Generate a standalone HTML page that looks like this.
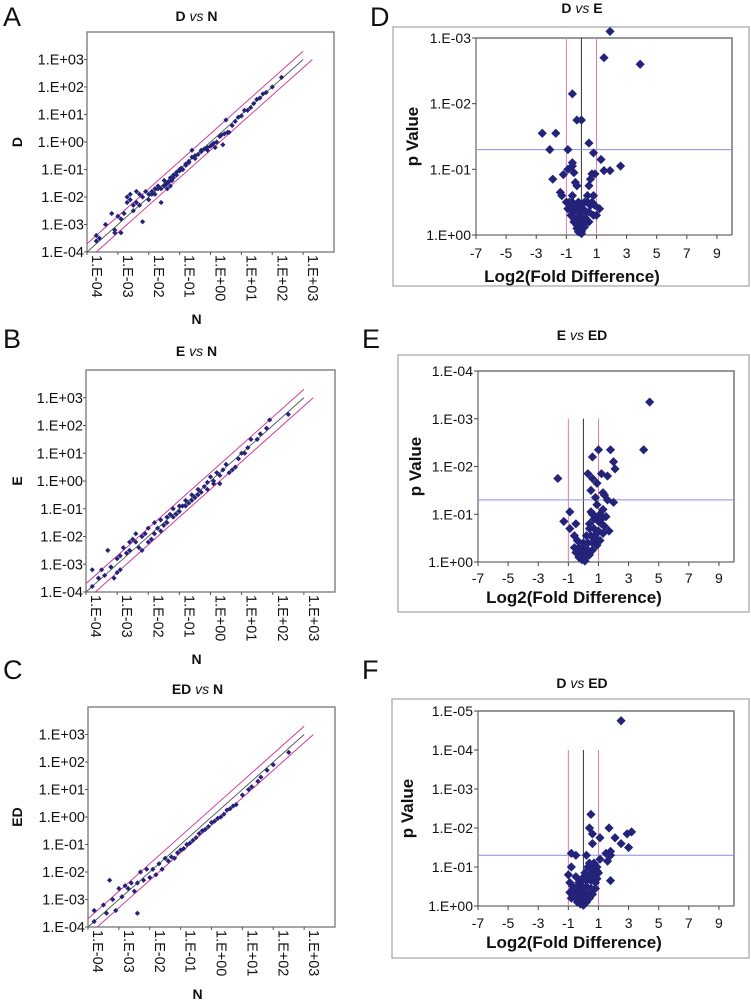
<!DOCTYPE html>
<html><head><meta charset="utf-8"><style>
html,body{margin:0;padding:0;background:#fff;}
svg{display:block;font-family:"Liberation Sans",Arial,sans-serif;}
</style></head><body>
<svg id="fig" width="751" height="1000" viewBox="0 0 751 1000" xmlns="http://www.w3.org/2000/svg">
<rect width="751" height="1000" fill="#fff"/>
<g id="root"></g>
</svg>
<script>
// ---- Scatter data (log10 values) ----
const aX = [-3.7,-3.7,-3.6,-3.4,-3.2,-3.1,-3.1,-3.0,-2.9,-2.9,-2.8,-2.7,-2.7,-2.6,-2.6,-2.5,-2.5,-2.4,-2.4,-2.3,-2.3,-2.2,-2.2,-2.1,-2.0,-2.0,-1.9,-1.9,-1.8,-1.8,-1.7,-1.7,-1.6,-1.6,-1.5,-1.5,-1.45,-1.4,-1.4,-1.35,-1.3,-1.3,-1.25,-1.2,-1.2,-1.1,-1.1,-1.0,-1.0,-0.95,-0.9,-0.9,-0.8,-0.8,-0.7,-0.7,-0.6,-0.6,-0.5,-0.5,-0.4,-0.3,-0.3,-0.2,-0.1,-0.1,0.0,0.05,0.1,0.15,0.2,0.3,0.35,0.4,0.45,0.5,0.55,0.6,0.7,0.8,0.9,1.0,1.1,1.2,1.3,1.4,1.5,1.6,1.7,1.8,2.0,2.3];
const aY = [-3.4,-3.6,-3.5,-3.0,-2.6,-3.2,-3.3,-2.7,-2.8,-3.3,-2.6,-2.2,-2.0,-1.9,-2.1,-2.5,-2.3,-2.2,-1.8,-1.9,-2.3,-2.9,-2.0,-1.8,-1.9,-2.1,-1.8,-1.9,-1.7,-1.9,-1.6,-1.7,-1.7,-2.2,-1.4,-1.6,-1.55,-1.5,-1.7,-1.45,-1.3,-1.6,-1.4,-1.2,-1.3,-1.1,-1.2,-1.05,-1.0,-0.95,-1.0,-1.0,-0.85,-0.8,-0.7,-0.75,-0.55,-0.3,-0.5,-0.6,-0.45,-0.3,-0.35,-0.25,-0.2,-0.3,-0.15,-0.1,-0.05,-0.2,0.0,0.2,0.25,-0.1,0.3,0.8,0.35,0.35,0.6,0.75,0.9,0.95,1.15,1.15,1.25,1.4,1.55,1.6,1.75,1.8,2.0,2.35];
const bX = [-3.8,-3.8,-3.6,-3.5,-3.4,-3.3,-3.2,-3.1,-3.0,-3.0,-2.9,-2.9,-2.8,-2.7,-2.6,-2.6,-2.5,-2.4,-2.4,-2.3,-2.2,-2.2,-2.1,-2.0,-2.0,-1.9,-1.8,-1.8,-1.7,-1.6,-1.6,-1.5,-1.4,-1.4,-1.3,-1.2,-1.2,-1.1,-1.0,-1.0,-0.9,-0.8,-0.8,-0.7,-0.6,-0.6,-0.5,-0.4,-0.4,-0.3,-0.2,-0.1,-0.1,0.0,0.1,0.1,0.2,0.3,0.3,0.4,0.5,0.6,0.7,0.8,0.9,1.0,1.1,1.2,1.3,1.5,1.6,1.8,1.9,2.5];
const bY = [-3.2,-3.8,-3.5,-3.2,-3.4,-2.5,-3.1,-3.5,-2.8,-3.3,-2.7,-3.2,-2.4,-2.6,-2.5,-2.2,-2.1,-2.2,-1.9,-2.4,-2.0,-2.5,-1.9,-1.7,-2.2,-2.1,-1.5,-1.9,-1.7,-1.4,-1.8,-1.6,-1.3,-1.5,-1.2,-1.3,-1.0,-1.2,-0.9,-1.1,-0.9,-0.7,-0.9,-0.8,-0.5,-0.7,-0.6,-0.3,-0.5,-0.4,-0.2,-0.05,-0.3,0.15,0.0,-0.1,0.3,0.2,-0.1,0.4,0.6,0.3,0.4,0.5,0.8,1.0,1.0,1.2,1.5,1.5,1.7,1.9,2.2,2.4];
const cX = [-3.8,-3.8,-3.5,-3.4,-3.3,-3.2,-3.1,-3.0,-2.9,-2.8,-2.7,-2.6,-2.5,-2.4,-2.4,-2.3,-2.2,-2.1,-2.0,-1.9,-1.8,-1.7,-1.6,-1.5,-1.4,-1.3,-1.2,-1.1,-1.0,-0.9,-0.8,-0.7,-0.6,-0.5,-0.4,-0.3,-0.2,-0.1,0.0,0.1,0.2,0.3,0.4,0.5,0.6,0.7,0.8,1.0,1.2,1.3,1.5,1.6,1.8,2.0,2.5];
const cY = [-3.4,-3.8,-3.2,-3.5,-2.3,-3.0,-3.4,-2.6,-2.9,-2.5,-2.6,-2.4,-2.7,-3.5,-2.4,-2.0,-2.3,-1.9,-2.2,-1.9,-2.1,-1.7,-1.9,-1.5,-1.6,-1.45,-1.5,-1.3,-1.2,-1.15,-1.0,-0.95,-0.85,-0.75,-0.6,-0.5,-0.45,-0.35,-0.2,-0.15,-0.05,0.0,0.1,0.25,0.3,0.4,0.45,0.8,1.0,1.1,1.3,1.45,1.7,1.9,2.35];
// ---- Volcano data (log2 fold, -log10 p) ----
const dX = [1.9,3.9,1.5,-0.6,-0.3,0.0,-2.6,-1.7,-2.1,-0.9,0.5,0.8,1.3,2.6,1.5,1.9,-0.6,-0.6,-0.9,-1.2,-0.5,-1.9,0.7,0.9,0.6,-0.4,-0.3,0.5,-1.4,-1.3,-0.6,0.4,0.8,0.7,-1.0,-0.8,-0.6,-0.4,-0.2,0.0,0.2,0.4,0.6,0.9,1.2,-0.9,-0.7,-0.5,-0.3,-0.1,0.1,0.3,0.5,0.8,1.0,-0.7,-0.5,-0.3,-0.1,0.1,0.3,0.5,-0.5,-0.3,-0.1,0.1,0.3,-0.3,-0.1,0.1,0.2,-0.2,0.0,0.0];
const dY = [3.1,2.6,2.7,2.15,1.75,1.75,1.55,1.55,1.3,1.3,1.4,1.25,1.15,1.05,0.98,0.98,1.1,1.05,1.0,0.92,0.95,0.85,0.93,0.93,0.85,0.8,0.75,0.75,0.65,0.6,0.6,0.6,0.6,0.5,0.5,0.5,0.5,0.45,0.5,0.45,0.5,0.5,0.45,0.45,0.4,0.4,0.4,0.35,0.4,0.35,0.4,0.35,0.35,0.3,0.3,0.3,0.25,0.25,0.3,0.25,0.25,0.2,0.2,0.15,0.2,0.15,0.2,0.1,0.1,0.1,0.12,0.05,0.05,0.02];
const eX = [4.4,4.0,1.0,1.8,0.6,2.0,2.1,-1.7,0.3,1.2,1.6,0.6,0.9,0.5,1.3,0.8,1.6,2.0,1.4,0.9,0.5,-0.9,-1.3,1.5,0.7,1.2,0.4,-0.5,-0.9,1.7,-0.6,0.9,1.1,1.3,0.6,0.8,1.0,1.2,1.4,0.4,0.7,1.0,1.3,0.2,0.5,0.8,1.1,-0.4,0.0,0.3,0.6,0.9,-0.6,-0.3,0.0,0.3,0.6,-0.5,-0.2,0.1,0.4,-0.3,0.0,0.2,-0.1,0.1];
const eY = [3.35,2.35,2.35,2.35,2.2,2.1,1.95,1.75,1.85,1.85,1.8,1.75,1.65,1.5,1.45,1.35,1.3,1.25,1.4,1.2,1.05,1.05,0.85,0.95,0.9,0.9,0.8,0.8,0.7,0.65,0.55,0.6,1.0,1.1,1.0,0.95,0.85,0.8,0.75,0.7,0.7,0.65,0.6,0.55,0.55,0.5,0.45,0.45,0.4,0.4,0.4,0.35,0.3,0.3,0.3,0.25,0.25,0.2,0.2,0.2,0.15,0.1,0.1,0.1,0.05,0.02];
const fX = [2.5,0.5,0.4,1.7,0.6,3.2,2.9,2.1,1.1,2.5,0.6,3.0,1.8,1.5,1.8,0.2,-0.8,-0.5,1.6,1.1,-0.8,0.9,-1.0,0.5,-0.5,1.8,-0.9,-0.3,0.4,0.7,0.9,0.3,0.6,0.8,1.0,0.1,0.4,0.7,0.9,-0.1,0.2,0.5,0.8,-0.7,-0.4,-0.1,0.2,0.5,0.8,-0.9,-0.6,-0.3,0.0,0.3,0.6,-0.8,-0.5,-0.2,0.1,0.4,-0.4,-0.1,0.2,-0.2,0.0];
const fY = [4.75,2.35,2.0,2.0,1.85,1.9,1.85,1.75,1.75,1.6,1.6,1.5,1.4,1.35,1.3,1.3,1.35,1.3,1.15,1.2,1.0,0.9,0.8,0.8,0.75,0.65,0.6,0.6,1.1,1.1,1.0,1.0,0.95,0.9,0.85,0.85,0.8,0.75,0.7,0.7,0.65,0.65,0.6,0.5,0.5,0.5,0.5,0.45,0.45,0.35,0.35,0.35,0.35,0.3,0.3,0.2,0.2,0.2,0.2,0.2,0.1,0.1,0.1,0.05,0.02];
// tick labels
const logTicks = ["1.E-04","1.E-03","1.E-02","1.E-01","1.E+00","1.E+01","1.E+02","1.E+03"];
const foldTicks = [-7,-5,-3,-1,1,3,5,7,9];
const pTicksD = ["1.E+00","1.E-01","1.E-02","1.E-03"];
const pTicksE = ["1.E+00","1.E-01","1.E-02","1.E-03","1.E-04"];
const pTicksF = ["1.E+00","1.E-01","1.E-02","1.E-03","1.E-04","1.E-05"];

const NS = "http://www.w3.org/2000/svg";
const root = document.getElementById('root');
const NAVY = "#23237a";
function mk(tag, attrs, parent, txt){
  const e = document.createElementNS(NS, tag);
  for (const k in attrs) e.setAttribute(k, attrs[k]);
  if (txt !== undefined) e.textContent = txt;
  (parent||root).appendChild(e);
  return e;
}
function title(parent, x, y, a, b, size){
  const t = mk('text', {x:x, y:y, 'text-anchor':'middle', 'font-size':size, 'font-weight':'bold', fill:'#111'}, parent);
  
  
  mk('tspan', {}, t, a + ' ');
  mk('tspan', {'font-style':'italic','font-weight':'normal'}, t, 'vs');
  mk('tspan', {}, t, ' ' + b);
}
function letter(x, y, s){
  const t = mk('text', {x:x, y:y, 'font-size':27, fill:'#111'}, root, s);
  
  
}

function scatterPanel(name, L, T, R, B, xs, ys, ttl, ylab, titleY, nY){
  const g = mk('g', {}, root);
  
  
  const sx = v => L + (v + 4) / 8 * (R - L);
  const sy = v => B - (v + 4) / 8 * (B - T);
  const box = mk('rect', {x:L, y:T, width:R-L, height:B-T, fill:'none', stroke:'#777', 'stroke-width':1.3}, g);
  
  
  logTicks.forEach((t, i) => {
    const y = sy(i - 4);
    mk('line', {x1:L-3, x2:L, y1:y, y2:y, stroke:'#555'}, g);
    const tx = mk('text', {x:L-3, y:y+5, 'text-anchor':'end', 'font-size':14.5, fill:'#111'}, g, t);
    
    
    const x = sx(i - 4);
    mk('line', {x1:x, x2:x, y1:B, y2:B+3, stroke:'#555'}, g);
    const lx = mk('text', {x:0, y:0, 'font-size':14.5, fill:'#111', transform:`translate(${x+5},${B+3}) rotate(90)`}, g, t);
    
    
  });
  const l1 = mk('line', {x1:sx(-4), y1:sy(-4), x2:sx(3), y2:sy(3), stroke:'#555', 'stroke-width':0.9}, g);
  
  
  const l2 = mk('line', {x1:sx(-4), y1:sy(-3.7), x2:sx(3), y2:sy(3.3), stroke:'#d23a9a', 'stroke-width':1}, g);
  
  
  const l3 = mk('line', {x1:sx(-3.7), y1:sy(-4), x2:sx(3.3), y2:sy(3), stroke:'#d23a9a', 'stroke-width':1}, g);
  
  
  const n = Math.min(xs.length, ys.length);
  for (let i = 0; i < n; i++){
    const x = sx(xs[i]), y = sy(ys[i]), r = 2.6;
    const p = mk('polygon', {points:`${x},${y-r} ${x+r},${y} ${x},${y+r} ${x-r},${y}`, fill:NAVY}, g);
    
    
  }
  title(g, (L+R)/2 - 14, titleY, ttl[0], ttl[1], 14);
  const yl = mk('text', {x:0, y:0, 'font-size':14, 'font-weight':'bold', 'text-anchor':'middle', fill:'#111', transform:`translate(${22},${(T+B)/2}) rotate(-90)`}, g, ylab);
  
  
  const xl = mk('text', {x:(L+R)/2 - 14, y:nY, 'font-size':14, 'font-weight':'bold', 'text-anchor':'middle', fill:'#111'}, g, 'N');
  
  
}

function volcanoPanel(name, frame, L, T, R, B, maxDec, xs, ys, pTicks, vTop, ttl, titleY, ylX, tickY, axY){
  const g = mk('g', {}, root);
  
  
  const sx = v => L + (v + 7) / 17 * (R - L);
  const sy = v => B - v / maxDec * (B - T);
  const fr = mk('rect', {x:frame[0], y:frame[1], width:frame[2], height:frame[3], fill:'none', stroke:'#aaa', 'stroke-width':1.3}, g);
  
  
  mk('polyline', {points:`${L},${T} ${R},${T} ${R},${B}`, fill:'none', stroke:'#777', 'stroke-width':1.5}, g);
  mk('polyline', {points:`${L},${T} ${L},${B} ${R},${B}`, fill:'none', stroke:'#444', 'stroke-width':1}, g);
  pTicks.forEach((t, i) => {
    const y = sy(i);
    mk('line', {x1:L-4, x2:L, y1:y, y2:y, stroke:'#444'}, g);
    const tx = mk('text', {x:L-5, y:y+5, 'text-anchor':'end', 'font-size':14, fill:'#111'}, g, t);
    
    
  });
  for (let v = -7; v <= 10; v += 2) { const x = sx(v); mk('line', {x1:x, x2:x, y1:B, y2:B+4, stroke:'#444'}, g); }
  foldTicks.forEach(v => {
    const tx = mk('text', {x:sx(v), y:tickY, 'text-anchor':'middle', 'font-size':14, fill:'#111'}, g, String(v));
    
    
  });
  const vt = sy(vTop);
  [-1, 1].forEach(v => {
    const l = mk('line', {x1:sx(v), x2:sx(v), y1:vt, y2:B, stroke:'#e07ab8', 'stroke-width':1}, g);
    
    
  });
  const l0 = mk('line', {x1:sx(0), x2:sx(0), y1:vt, y2:B, stroke:'#333', 'stroke-width':1}, g);
  
  
  const hy = sy(1.301);
  const h = mk('line', {x1:L, x2:R, y1:hy, y2:hy, stroke:'#8a8ee0', 'stroke-width':1}, g);
  
  
  const n = Math.min(xs.length, ys.length);
  for (let i = 0; i < n; i++){
    const x = sx(xs[i]), y = sy(ys[i]), r = 4.6;
    const p = mk('polygon', {points:`${x},${y-r} ${x+r},${y} ${x},${y+r} ${x-r},${y}`, fill:NAVY}, g);
    
    
  }
  title(g, 582, titleY, ttl[0], ttl[1], 14);
  const yl = mk('text', {x:0, y:0, 'font-size':17, 'font-weight':'bold', 'text-anchor':'middle', fill:'#111', transform:`translate(${ylX},${(T+B)/2}) rotate(-90)`}, g, 'p Value');
  
  
  const xl = mk('text', {x:(L+R)/2 - 32, y:axY, 'font-size':17, 'font-weight':'bold', 'text-anchor':'middle', fill:'#111'}, g, 'Log2(Fold Difference)');
  
  
}

letter(3, 26, 'A'); letter(3, 348, 'B'); letter(3, 679, 'C');
letter(370, 26, 'D'); letter(362, 348, 'E'); letter(362, 679, 'F');

scatterPanel('panel-a-d-vs-n', 87, 32, 334, 252, aX, aY, ['D','N'], 'D', 21, 324);
scatterPanel('panel-b-e-vs-n', 86, 370, 335, 592, bX, bY, ['E','N'], 'E', 356, 664);
scatterPanel('panel-c-ed-vs-n', 88, 707, 335, 927, cX, cY, ['ED','N'], 'ED', 694, 999);

volcanoPanel('panel-d-d-vs-e', [393,27,356,259], 476, 38, 732, 235, 3, dX, dY, pTicksD, 3, ['D','E'], 13, 418, 258, 282);
volcanoPanel('panel-e-e-vs-ed', [398,355,351,257], 478, 371, 734, 562, 4, eX, eY, pTicksE, 3, ['E','ED'], 340, 421, 583, 603);
volcanoPanel('panel-f-d-vs-ed', [392,699,357,259], 478, 711, 734, 906, 5, fX, fY, pTicksF, 4, ['D','ED'], 688, 413, 928, 948);
</script>
</body></html>
